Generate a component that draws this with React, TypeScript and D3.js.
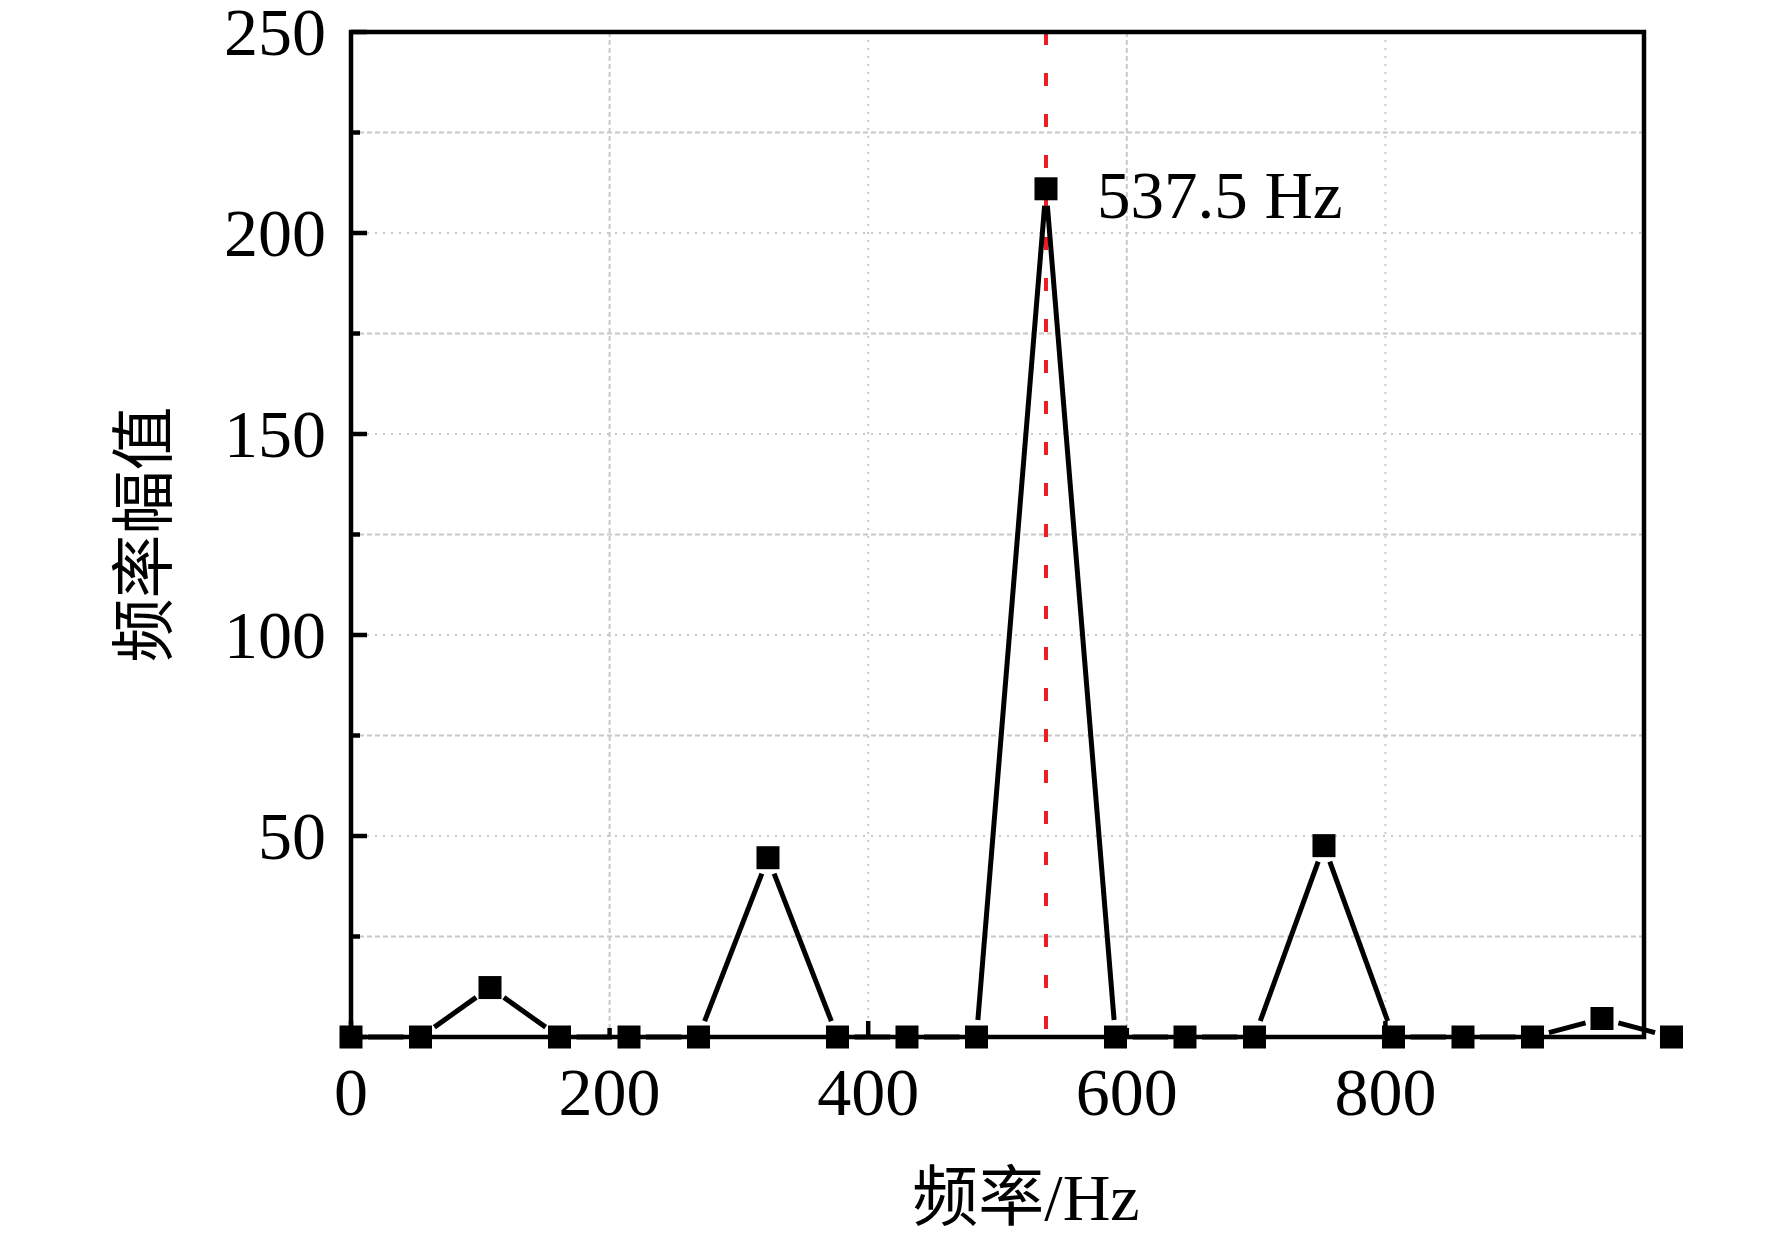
import React, { useEffect, useRef } from "react";
import * as d3 from "d3";

// FFT spectrum points
const freqs = [
  0, 53.75, 107.5, 161.25, 215, 268.75, 322.5, 376.25, 430, 483.75, 537.5,
  591.25, 645, 698.75, 752.5, 806.25, 860, 913.75, 967.5, 1021.25,
];
const amps = [0, 0, 12.3, 0, 0, 0, 44.6, 0, 0, 0, 211, 0, 0, 0, 47.6, 0, 0, 0, 4.6, 0];

const xLabels = [0, 200, 400, 600, 800];
const xMajor = [0, 400, 800];
const xMinor = [200, 600];
const yLabels = [50, 100, 150, 200, 250];
const yMajor = [0, 50, 100, 150, 200, 250];
const yMinor = [25, 75, 125, 175, 225];

const peakFreq = 537.5;
const peakText = "537.5 Hz";

const W = 1772;
const H = 1234;

const App: React.FC = () => {
  const svgRef = useRef<SVGSVGElement>(null);

  useEffect(() => {
    if (!svgRef.current) return;
    const svg = d3.select(svgRef.current);
    svg.selectAll("*").remove();

    const margin = { top: 32, right: W - 1644, bottom: H - 1037, left: 351 };
    const serif = "'Liberation Serif', 'Times New Roman', 'Noto Sans CJK SC', serif";
    const fs = 68;

    const x = d3.scaleLinear().domain([0, 1000]).range([margin.left, W - margin.right]);
    const y = d3.scaleLinear().domain([0, 250]).range([H - margin.bottom, margin.top]);

    const [x0, x1] = x.range();
    const [y0, y1] = y.range();

    // grid: major lines dotted, minor lines dashed
    const grid = svg.append("g").attr("stroke", "#c8c8c8").attr("stroke-width", 2).attr("fill", "none");
    xLabels
      .filter((v) => v > 0)
      .forEach((v) => {
        grid
          .append("line")
          .attr("x1", x(v))
          .attr("x2", x(v))
          .attr("y1", y1)
          .attr("y2", y0)
          .attr("stroke-dasharray", xMajor.includes(v) ? "2,6" : "5,3");
      });
    [...yMajor.slice(1, -1), ...yMinor].forEach((v) => {
      grid
        .append("line")
        .attr("x1", x0)
        .attr("x2", x1)
        .attr("y1", y(v))
        .attr("y2", y(v))
        .attr("stroke-dasharray", yMajor.includes(v) ? "2,6" : "5,3");
    });

    // red dashed marker line at the peak frequency
    svg
      .append("line")
      .attr("x1", x(peakFreq))
      .attr("x2", x(peakFreq))
      .attr("y1", y1)
      .attr("y2", y0)
      .attr("stroke", "#ee1c24")
      .attr("stroke-width", 4)
      .attr("stroke-dasharray", "13,28");

    // frame
    svg
      .append("rect")
      .attr("x", x0)
      .attr("y", y1)
      .attr("width", x1 - x0)
      .attr("height", y0 - y1)
      .attr("fill", "none")
      .attr("stroke", "#000")
      .attr("stroke-width", 4.5);

    // inward ticks
    const ticks = svg.append("g").attr("stroke", "#000").attr("stroke-width", 4.5);
    yMajor.forEach((v) =>
      ticks.append("line").attr("x1", x0).attr("x2", x0 + 16).attr("y1", y(v)).attr("y2", y(v))
    );
    yMinor.forEach((v) =>
      ticks.append("line").attr("x1", x0).attr("x2", x0 + 9).attr("y1", y(v)).attr("y2", y(v))
    );
    xMajor.forEach((v) =>
      ticks.append("line").attr("x1", x(v)).attr("x2", x(v)).attr("y1", y0).attr("y2", y0 - 16)
    );
    xMinor.forEach((v) =>
      ticks.append("line").attr("x1", x(v)).attr("x2", x(v)).attr("y1", y0).attr("y2", y0 - 9)
    );

    // tick labels
    svg
      .append("g")
      .selectAll("text")
      .data(xLabels)
      .enter()
      .append("text")
      .attr("x", (d) => x(d))
      .attr("y", y0 + 78)
      .attr("text-anchor", "middle")
      .attr("font-family", serif)
      .attr("font-size", fs)
      .text((d) => d);

    svg
      .append("g")
      .selectAll("text")
      .data(yLabels)
      .enter()
      .append("text")
      .attr("x", x0 - 25)
      .attr("y", (d) => y(d) + 0.34 * fs)
      .attr("text-anchor", "end")
      .attr("font-family", serif)
      .attr("font-size", fs)
      .text((d) => d);

    // data line, segments broken short of each marker
    const pts = freqs.map((f, i) => [x(f), y(amps[i])] as [number, number]);
    const gap = 17;
    const lines = svg
      .append("g")
      .attr("stroke", "#000")
      .attr("stroke-width", 5);
    d3.pairs(pts).forEach(([a, b]) => {
      const dx = b[0] - a[0];
      const dy = b[1] - a[1];
      const len = Math.hypot(dx, dy);
      if (len <= 2 * gap) return;
      const ux = dx / len;
      const uy = dy / len;
      lines
        .append("line")
        .attr("x1", a[0] + ux * gap)
        .attr("y1", a[1] + uy * gap)
        .attr("x2", b[0] - ux * gap)
        .attr("y2", b[1] - uy * gap);
    });

    const ms = 23;
    svg
      .append("g")
      .selectAll("rect")
      .data(pts)
      .enter()
      .append("rect")
      .attr("x", (d) => d[0] - ms / 2)
      .attr("y", (d) => d[1] - ms / 2)
      .attr("width", ms)
      .attr("height", ms)
      .attr("fill", "#000");

    // peak annotation
    const peakAmp = amps[freqs.indexOf(peakFreq)];
    svg
      .append("text")
      .attr("x", x(peakFreq) + 51)
      .attr("y", y(peakAmp) + 29)
      .attr("font-family", serif)
      .attr("font-size", 67)
      .text(peakText);

    // axis titles
    svg
      .append("text")
      .attr("transform", `translate(144, ${(y0 + y1) / 2}) rotate(-90)`)
      .attr("text-anchor", "middle")
      .attr("dominant-baseline", "central")
      .attr("font-family", serif)
      .attr("font-size", 64)
      .text("频率幅值");

    svg
      .append("text")
      .attr("x", 1026)
      .attr("y", 1220)
      .attr("text-anchor", "middle")
      .attr("font-family", serif)
      .attr("font-size", 66)
      .text("频率/Hz");
  }, []);

  return (
    <svg
      ref={svgRef}
      width={W}
      height={H}
      viewBox={`0 0 ${W} ${H}`}
      style={{ position: "absolute", left: 0, top: 0, background: "#fff" }}
    ></svg>
  );
};

export default App;
